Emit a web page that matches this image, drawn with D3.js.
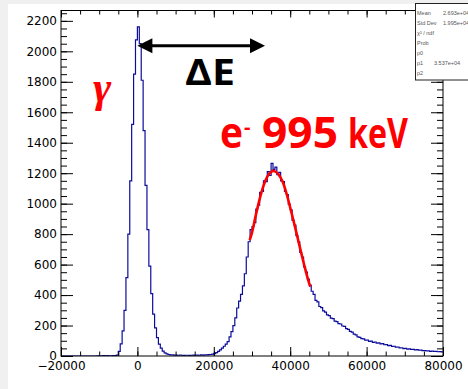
<!DOCTYPE html>
<html>
<head>
<meta charset="utf-8">
<script src="https://cdn.jsdelivr.net/npm/d3@7"></script>
<style>
  body { margin: 0; background: #f0f0f0; overflow: hidden; }
  svg { display: block; }
  .tick text { font-family: "DejaVu Sans", sans-serif; font-size: 12px; fill: #000; }
  .stats text { font-family: "Liberation Sans", sans-serif; font-size: 5.5px; fill: #555; }
</style>
</head>
<body>
<svg id="chart"></svg>
<script>
// histogram: 500-wide bins from -20000 to 80000
const binStart = -20000;
const binWidth = 500;
const counts = [
    0, 0, 0, 0, 0, 0, 0, 0, 0, 0,
    0, 0, 0, 0, 0, 0, 0, 0, 0, 1,
    0, 1, 2, 1, 2, 0, 1, 2, 3, 6,
    30, 80, 165, 300, 515, 800, 1150, 1520, 1850, 2075,
    2160, 2050, 1810, 1480, 1120, 830, 590, 410, 275, 185,
    120, 78, 52, 32, 20, 14, 10, 8, 7, 6,
    6, 5, 6, 5, 4, 5, 5, 4, 5, 6,
    5, 6, 5, 7, 6, 8, 7, 9, 10, 12,
    16, 22, 30, 40, 52, 64, 78, 95, 125, 160,
    200, 250, 315, 360, 405, 460, 540, 650, 750, 830,
    850, 875, 965, 990, 1075, 1080, 1150, 1145, 1210, 1185,
    1265, 1225, 1240, 1190, 1205, 1150, 1145, 1080, 1060, 995,
    960, 890, 860, 790, 750, 680, 650, 585, 550, 505,
    465, 425, 405, 365, 355, 325, 318, 296, 288, 270,
    265, 248, 245, 229, 225, 212, 210, 197, 195, 180,
    175, 162, 157, 143, 139, 126, 122, 114, 112, 104,
    104, 96, 97, 90, 92, 85, 86, 80, 81, 74,
    75, 68, 70, 63, 64, 58, 59, 53, 54, 49,
    50, 45, 47, 43, 44, 40, 42, 38, 39, 35,
    36, 33, 34, 31, 32, 30, 31, 28, 29, 27
];

// gaussian fit on the electron peak
const fitX = [29400, 30000, 31000, 32000, 33000, 34000, 35000, 35500, 36000, 37000,
              38000, 39000, 40000, 41000, 42000, 43000, 44000, 45000, 45300];
const fitY = [760, 810, 925, 1030, 1117, 1178, 1208, 1215, 1212, 1190,
              1145, 1070, 975, 875, 770, 665, 565, 475, 455];

const xTicks = [-20000, 0, 20000, 40000, 60000, 80000];
const yTicks = d3.range(0, 2201, 200);
const arrowEnds = [0, 33400];
const arrowLevel = 2037;

const statNames = ["Mean", "Std Dev", "\u03c7\u00b2 / ndf", "Prob", "p0", "p1", "p2"];
const statValues = ["2.693e+04", "1.995e+04", "", "", "", "3.537e+04", ""];

const W = 468, H = 389;
const frame = { left: 61, right: 443, top: 10.5, bottom: 356 };

const svg = d3.select("#chart").attr("width", W).attr("height", H);

svg.append("rect").attr("x", 8).attr("y", 4).attr("width", W - 8).attr("height", H - 4).attr("fill", "#fff");

const x = d3.scaleLinear().domain([-20000, 80000]).range([frame.left, frame.right]);
const y = d3.scaleLinear().domain([0, 2268]).range([frame.bottom, frame.top]);

svg.append("defs").append("clipPath").attr("id", "clip")
    .append("rect")
    .attr("x", frame.left).attr("y", frame.top)
    .attr("width", frame.right - frame.left).attr("height", frame.bottom - frame.top);

// histogram as a step line
const steps = counts.map((c, i) => [binStart + i * binWidth, c]);
steps.push([binStart + counts.length * binWidth, counts[counts.length - 1]]);

const stepLine = d3.line()
    .x((d) => x(d[0]))
    .y((d) => y(d[1]))
    .curve(d3.curveStepAfter);

svg.append("path")
    .datum(steps)
    .attr("clip-path", "url(#clip)")
    .attr("fill", "none")
    .attr("stroke", "#0b0b9c")
    .attr("stroke-width", 1.2)
    .attr("d", stepLine);

// fit curve
const fitLine = d3.line()
    .x((d) => x(d[0]))
    .y((d) => y(d[1]))
    .curve(d3.curveMonotoneX);

svg.append("path")
    .datum(fitX.map((v, i) => [v, fitY[i]]))
    .attr("fill", "none")
    .attr("stroke", "#ff0000")
    .attr("stroke-width", 2.6)
    .attr("d", fitLine);

// axes, ticks inside the frame like ROOT
const minorX = d3.range(-20000, 80001, 5000);
const minorY = d3.range(0, 2251, 50);

const addAxis = (axis, tx, ty) => {
    const g = svg.append("g").attr("transform", `translate(${tx},${ty})`).call(axis);
    g.select(".domain").remove();
    g.selectAll(".tick line").attr("stroke", "#000");
    return g;
};

addAxis(d3.axisBottom(x).tickValues(minorX).tickSize(-4.5).tickFormat(""), 0, frame.bottom);
addAxis(d3.axisBottom(x).tickValues(xTicks).tickSize(-9).tickPadding(3).tickFormat(d3.format("d")), 0, frame.bottom)
    .selectAll(".tick text").attr("dy", "0.72em").attr("y", 5);
addAxis(d3.axisTop(x).tickValues(minorX).tickSize(-4).tickFormat(""), 0, frame.top);
addAxis(d3.axisTop(x).tickValues(xTicks).tickSize(-7).tickFormat(""), 0, frame.top);

addAxis(d3.axisLeft(y).tickValues(minorY).tickSize(-6).tickFormat(""), frame.left, 0);
addAxis(d3.axisLeft(y).tickValues(yTicks).tickSize(-12).tickPadding(4).tickFormat(d3.format("d")), frame.left, 0);
addAxis(d3.axisRight(y).tickValues(minorY).tickSize(-6).tickFormat(""), frame.right, 0);
addAxis(d3.axisRight(y).tickValues(yTicks).tickSize(-12).tickFormat(""), frame.right, 0);

svg.append("rect")
    .attr("x", frame.left).attr("y", frame.top)
    .attr("width", frame.right - frame.left).attr("height", frame.bottom - frame.top)
    .attr("fill", "none").attr("stroke", "#000").attr("stroke-width", 1);

// stats box
const stats = svg.append("g").attr("class", "stats");
stats.append("rect")
    .attr("x", 415.5).attr("y", 3.5).attr("width", 60).attr("height", 76.5)
    .attr("fill", "#fff").attr("stroke", "#222").attr("stroke-width", 1);
statNames.forEach((name, i) => {
    stats.append("text").attr("x", 417).attr("y", 15 + i * 10).text(name);
    if (statValues[i]) {
        stats.append("text")
            .attr("x", name === "p1" ? 434 : 443)
            .attr("y", 15 + i * 10)
            .text(statValues[i]);
    }
});

// delta E arrow
const arrowY = y(arrowLevel);
const ax0 = x(arrowEnds[0]), ax1 = x(arrowEnds[1]);
const head = 15, half = 7.5;
svg.append("line")
    .attr("x1", ax0 + head - 2).attr("x2", ax1 - head + 2)
    .attr("y1", arrowY).attr("y2", arrowY)
    .attr("stroke", "#000").attr("stroke-width", 3);
svg.append("path")
    .attr("d", `M${ax0},${arrowY}L${ax0 + head},${arrowY - half}L${ax0 + head},${arrowY + half}Z`)
    .attr("fill", "#000");
svg.append("path")
    .attr("d", `M${ax1},${arrowY}L${ax1 - head},${arrowY - half}L${ax1 - head},${arrowY + half}Z`)
    .attr("fill", "#000");

svg.append("text")
    .attr("x", 185).attr("y", 85)
    .attr("font-family", "'Open Sans', sans-serif").attr("font-weight", 700)
    .attr("font-size", 35).attr("textLength", 50).attr("lengthAdjust", "spacingAndGlyphs")
    .text("\u0394E");

// labels
svg.append("text")
    .attr("x", 93).attr("y", 102)
    .attr("font-family", "'Liberation Serif', serif").attr("font-style", "italic").attr("font-weight", 700)
    .attr("font-size", 44).attr("fill", "#ff0000")
    .text("\u03b3");

const eLabel = svg.append("g").attr("fill", "#ff0000")
    .attr("font-family", "'Open Sans', sans-serif").attr("font-weight", 700);
eLabel.append("text").attr("x", 220).attr("y", 148).attr("font-size", 43)
    .attr("textLength", 23).attr("lengthAdjust", "spacingAndGlyphs").text("e");
eLabel.append("text").attr("x", 244).attr("y", 134).attr("font-size", 20).text("-");
eLabel.append("text").attr("x", 262).attr("y", 148).attr("font-size", 43)
    .attr("textLength", 76).attr("lengthAdjust", "spacingAndGlyphs").text("995");
eLabel.append("text").attr("x", 348).attr("y", 148).attr("font-size", 42)
    .attr("textLength", 60).attr("lengthAdjust", "spacingAndGlyphs").text("keV");
</script>
</body>
</html>
